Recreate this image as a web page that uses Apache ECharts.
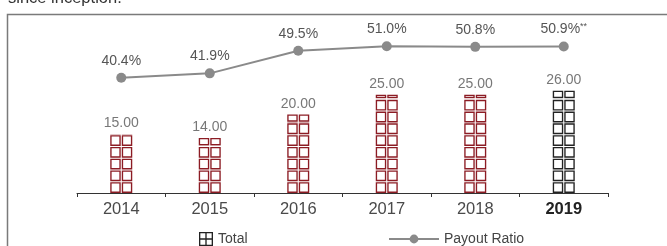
<!DOCTYPE html>
<html>
<head>
<meta charset="utf-8">
<script src="https://cdn.jsdelivr.net/npm/echarts@6/dist/echarts.min.js"></script>
<style>
  html, body { margin: 0; padding: 0; background: #fff; }
  #chart { width: 667px; height: 246px; }
</style>
</head>
<body>
<div id="chart"></div>
<script>
// ── Data ─────────────────────────────────────────────
const years = ['2014', '2015', '2016', '2017', '2018', '2019']
const totals = [15, 14, 20, 25, 25, 26]
const payoutRatio = [40.4, 41.9, 49.5, 51.0, 50.8, 50.9]
const footnotes = ['', '', '', '', '', '**']
const highlightYear = '2019'

// ── Style ────────────────────────────────────────────
const FONT = '"Liberation Sans", Arial, Helvetica, sans-serif'
const RED = '#8c1c24'
const DARK = '#222'
const GREY = '#8a8a8a'
const PER_ROW = 3          // one row of squares = 3 units
const PX_PER_UNIT = 3.93   // matches the left value axis below
const ROW_H = 10.8

// two outlined squares of height h (outer clockwise, hole counter-clockwise)
function twoSquares(h) {
  const t = 1.3, b = h - t
  return 'path://M0,0H10V' + h + 'H0Z M' + t + ',' + t + 'V' + b + 'H8.7V' + t + 'Z ' +
    'M11,0H21V' + h + 'H11Z M12.3,' + t + 'V' + b + 'H19.7V' + t + 'Z'
}
const GRID_ICON = 'path://M0,0H21V21H0Z M2,2V9.5H9.5V2Z M11.5,2V9.5H19V2Z ' +
  'M2,11.5V19H9.5V11.5Z M11.5,11.5V19H19V11.5Z'

const chart = echarts.init(document.getElementById('chart'), null, { renderer: 'canvas' })

const colorOf = i => years[i] === highlightYear ? DARK : RED

// full rows of squares
const rowData = totals.map((v, i) => ({
  value: Math.floor(v / PER_ROW) * PER_ROW,
  itemStyle: { color: colorOf(i) }
}))
// squashed partial row on top of each bar
const capData = totals.map((v, i) => {
  const rem = v - Math.floor(v / PER_ROW) * PER_ROW
  if (!rem) return '-'
  const h = rem * PX_PER_UNIT - 0.6
  return {
    value: v,
    symbol: twoSquares(Math.max(h, 2.6)),
    symbolSize: [22, Math.max(h, 2.6)],
    itemStyle: { color: colorOf(i) }
  }
})

chart.setOption({
  animation: false,
  textStyle: { fontFamily: FONT },
  graphic: [
    {
      type: 'text', left: 8, top: -10,
      style: { text: 'since inception.', fontSize: 16.5, fill: '#333', fontFamily: FONT }
    },
    {
      type: 'rect', silent: true,
      shape: { x: 7.5, y: 14.5, width: 720, height: 300 },
      style: { fill: 'none', stroke: '#7a7a7a', lineWidth: 1.5 }
    }
  ],
  grid: { left: 77, right: 59, top: 30, bottom: 48 },
  legend: [
    {
      left: 199, top: 232, padding: 0, itemWidth: 14, itemHeight: 14, itemGap: 0,
      textStyle: { fontSize: 14, color: '#444', fontFamily: FONT },
      data: [{ name: 'Total', icon: GRID_ICON, itemStyle: { color: DARK } }]
    },
    {
      left: 388, top: 232, padding: 0, itemWidth: 50, itemHeight: 11,
      textStyle: { fontSize: 14, color: '#444', fontFamily: FONT },
      data: [{ name: 'Payout Ratio' }]
    }
  ],
  xAxis: {
    type: 'category',
    data: years,
    axisLine: { lineStyle: { color: '#333', width: 1 } },
    axisTick: { show: true, length: 4, lineStyle: { color: '#333' } },
    axisLabel: {
      margin: 3, fontSize: 16.5, color: '#4a4a4a',
      formatter: v => v === highlightYear ? '{b|' + v + '}' : v,
      rich: { b: { fontSize: 16.5, fontWeight: 'bold', color: DARK } }
    }
  },
  yAxis: [
    { type: 'value', min: -1.272, max: 41.47, show: false },
    { type: 'value', min: 0, max: 56.47, show: false }
  ],
  series: [
    {
      name: 'Total',
      type: 'pictorialBar',
      yAxisIndex: 0,
      symbol: twoSquares(10),
      symbolSize: [22, ROW_H],
      symbolRepeat: true,
      symbolMargin: 0.5,
      symbolClip: true,
      symbolBoundingData: 26.7,
      itemStyle: { color: RED },
      data: rowData
    },
    {
      name: 'Total',
      type: 'pictorialBar',
      yAxisIndex: 0,
      symbolPosition: 'end',
      itemStyle: { color: RED },
      data: capData
    },
    {
      // value labels for the bars, anchored at each bar's value
      name: 'Total labels',
      type: 'scatter',
      yAxisIndex: 0,
      symbolSize: 1,
      itemStyle: { color: 'rgba(0,0,0,0)' },
      label: {
        show: true, position: 'top', distance: 3,
        fontSize: 14, color: '#555',
        formatter: p => p.value.toFixed(2)
      },
      data: totals
    },
    {
      name: 'Payout Ratio',
      type: 'line',
      yAxisIndex: 1,
      symbol: 'circle',
      symbolSize: 10,
      itemStyle: { color: GREY },
      lineStyle: { color: GREY, width: 2 },
      label: {
        show: true, position: 'top', distance: 5,
        fontSize: 14, color: '#555',
        formatter: p => '{v|' + p.value.toFixed(1) + '%}' +
          (footnotes[p.dataIndex] ? '{s|' + footnotes[p.dataIndex] + '}' : ''),
        rich: {
          v: { fontSize: 14, color: '#555' },
          s: { fontSize: 9, color: '#555', padding: [0, 0, 6, 0] }
        }
      },
      data: payoutRatio
    }
  ]
})
</script>
</body>
</html>
